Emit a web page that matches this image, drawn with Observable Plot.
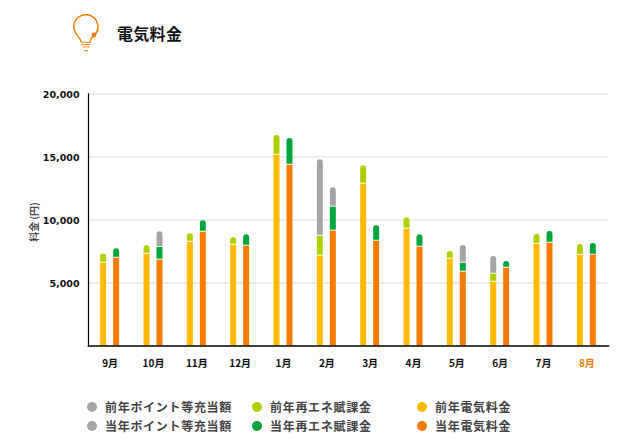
<!DOCTYPE html>
<html><head><meta charset="utf-8">
<script src="https://cdn.jsdelivr.net/npm/d3@7"></script>
<script src="https://cdn.jsdelivr.net/npm/@observablehq/plot@0.6"></script>
<style>
html,body{margin:0;padding:0;background:#fff;font-family:"Noto Sans CJK JP",sans-serif;}
#page{position:relative;width:633px;height:445px;overflow:hidden}
#head{position:absolute;left:72px;top:14px;display:flex;align-items:center}
#head h1{margin:0 0 0 17px;font-size:16px;font-weight:700;color:#111;line-height:24px;position:relative;top:-1px;letter-spacing:.3px}
#chart{position:absolute;left:0;top:82px}
#legend{position:absolute;left:87px;top:397px;display:grid;grid-template-columns:165px 165px 130px;font-size:12px;letter-spacing:.7px;font-weight:700;color:#444;line-height:19px}
#legend div{display:flex;align-items:center}
#legend i{width:10px;height:10px;border-radius:50%;margin-right:8px;display:inline-block}
#ylab{position:absolute;top:222px;left:33px;transform:translate(-50%,-50%) rotate(-90deg);white-space:nowrap;font-size:10px;color:#333;font-weight:500}
#chart g[aria-label="y-axis tick label"]{font-family:"DejaVu Sans",sans-serif;font-size:9.5px;font-weight:700}
</style></head><body>
<div id="page">
<div id="head">
<svg width="28" height="40" viewBox="0 0 28 40" fill="none" stroke="#f57c00" stroke-width="1.4">
<path d="M9 28 C8.5 23 2 20 2 14 A12 12 0 1 1 22.5 21"/><path d="M22 21 C20 23 18.5 25 18 28"/>
<circle cx="22" cy="21" r="1.7" fill="#f57c00"/>
<path d="M9 28.3H19M9.5 30.7H18.5M10.5 33H17.5M12 36.7H16" stroke="#f79a3a" stroke-width="1.2"/>
</svg><h1>電気料金</h1></div>
<div id="ylab">料金 (円)</div>
<div id="chart"></div>
<div id="legend"></div>
</div>
<script>
const months=["9月","10月","11月","12月","1月","2月","3月","4月","5月","6月","7月","8月"];
const prevElec=[6650,7370,8320,8080,15220,7210,12920,9350,6970,5140,8160,7290];
const prevRenew=[730,660,660,590,1560,1580,1460,900,610,640,770,850];
const prevPoint=[0,0,0,0,0,6070,0,0,0,1400,0,0];
const curElec=[7050,6890,9110,8000,14430,9190,8400,7920,5940,6250,8240,7290];
const curRenew=[740,1010,900,900,2120,1910,1220,980,710,530,930,920];
const curPoint=[0,1240,0,0,0,1540,0,0,1410,0,0,0];
const yTicks=[5000,10000,15000,20000];
const seriesNames=["前年ポイント等充当額","前年再エネ賦課金","前年電気料金","当年ポイント等充当額","当年再エネ賦課金","当年電気料金"];
const seriesColors=["#a5a5a5","#afcf00","#ffb900","#a5a5a5","#00a53c","#f57c00"];
const years=["前年","当年"];
const square=[],rounded=[];
function addBar(m,yr,parts){
  let base=0;
  const shown=parts.filter(p=>p.v>0);
  shown.forEach((p,j)=>{
    const row={m,yr,s:p.s,y1:base,y2:base+p.v};
    base+=p.v;
    (j===shown.length-1?rounded:square).push(row);
  });
}
months.forEach((m,i)=>{
  addBar(m,"前年",[{s:"前年電気料金",v:prevElec[i]},{s:"前年再エネ賦課金",v:prevRenew[i]},{s:"前年ポイント等充当額",v:prevPoint[i]}]);
  addBar(m,"当年",[{s:"当年電気料金",v:curElec[i]},{s:"当年再エネ賦課金",v:curRenew[i]},{s:"当年ポイント等充当額",v:curPoint[i]}]);
});
const chart=Plot.plot({
  width:633,height:293.5,marginTop:11.5,marginBottom:30,marginLeft:88,marginRight:25,
  style:{fontFamily:'"Noto Sans CJK JP",sans-serif',background:"transparent",overflow:"visible"},
  fx:{domain:months,padding:0,round:false,label:null,axis:null},
  x:{domain:years,paddingInner:0.54,paddingOuter:0.94,round:false,axis:null,label:null},
  y:{domain:[0,20000],axis:null,label:null},
  color:{domain:seriesNames,range:seriesColors},
  marks:[
    Plot.ruleY(yTicks,{stroke:"#ddd",strokeOpacity:1,strokeWidth:1}),
    Plot.barY(square,{fx:"m",x:"yr",y1:"y1",y2:"y2",fill:"s",insetTop:1}),
    Plot.barY(rounded,{fx:"m",x:"yr",y1:"y1",y2:"y2",fill:"s",insetTop:1,rx1y1:3,rx2y1:3}),
    Plot.frame({anchor:"left",stroke:"#000",strokeWidth:1.2,facet:"super"}),
    Plot.frame({anchor:"bottom",stroke:"#000",strokeWidth:1.5,facet:"super"}),
    Plot.axisY({ticks:yTicks,tickSize:0,tickPadding:9,dy:1,tickFormat:d=>d3.format(",")(d),label:null,fill:"#111"}),
    Plot.axisFx({domain:months,anchor:"bottom",tickSize:0,tickPadding:13.5,label:null,fontSize:10,fontWeight:700,fill:d=>d==="8月"?"#f57c00":"#111"})
  ]
});
document.getElementById("chart").append(chart);
const lg=document.getElementById("legend");
seriesNames.forEach((name,i)=>{
  const el=document.createElement("div");
  el.innerHTML='<i style="background:'+seriesColors[i]+'"></i>'+name;
  lg.append(el);
});
</script></body></html>
